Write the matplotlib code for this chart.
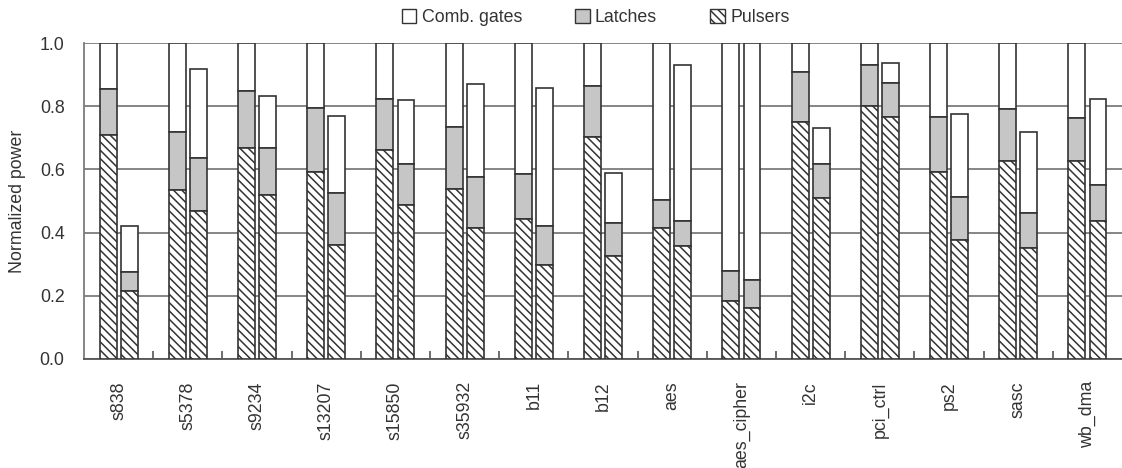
import numpy as np
import matplotlib
matplotlib.use("Agg")
import matplotlib.pyplot as plt
from matplotlib.patches import Patch

plt.rcParams.update({
    "font.family": "Liberation Sans",
    "font.size": 12.8,
    "hatch.linewidth": 1.1,
    "hatch.color": "#222222",
})

benchmarks = ["s838", "s5378", "s9234", "s13207", "s15850", "s35932", "b11",
              "b12", "aes", "aes_cipher", "i2c", "pci_ctrl", "ps2", "sasc", "wb_dma"]

# cumulative heights (top of pulser / top of latch / total) for the original design
orig_pulser = [0.709, 0.535, 0.669, 0.591, 0.661, 0.537, 0.442, 0.703, 0.416, 0.183,
               0.749, 0.801, 0.591, 0.628, 0.628]
orig_latch = [0.856, 0.719, 0.848, 0.793, 0.822, 0.735, 0.585, 0.864, 0.503, 0.277,
              0.907, 0.932, 0.767, 0.790, 0.763]
orig_total = [1.0] * 15

# same, after optimisation
opt_pulser = [0.216, 0.469, 0.519, 0.361, 0.488, 0.414, 0.296, 0.327, 0.356, 0.160,
              0.509, 0.765, 0.375, 0.351, 0.438]
opt_latch = [0.274, 0.635, 0.667, 0.524, 0.616, 0.577, 0.421, 0.430, 0.437, 0.250,
             0.616, 0.872, 0.512, 0.461, 0.551]
opt_total = [0.421, 0.919, 0.832, 0.770, 0.819, 0.869, 0.858, 0.590, 0.932, 1.0,
             0.730, 0.938, 0.777, 0.717, 0.822]

edge = "#333333"
gray = "#c6c6c6"
hatch = "\\\\\\\\"
width = 0.245
offset = 0.153
txt = "#333333"

fig = plt.figure(figsize=(11.22, 4.68), dpi=100)
ax = fig.add_axes([0.0749, 0.233, 0.9251, 0.675])

x = np.arange(len(benchmarks)) + 0.5


def stack(xpos, pulser, latch, total):
    pulser = np.array(pulser)
    latch = np.array(latch)
    total = np.array(total)
    ax.bar(xpos, total - latch, width, bottom=latch, color="white",
           edgecolor=edge, linewidth=1.2, zorder=3)
    ax.bar(xpos, latch - pulser, width, bottom=pulser, color=gray,
           edgecolor=edge, linewidth=1.2, zorder=3)
    ax.bar(xpos, pulser, width, color="white", edgecolor=edge,
           hatch=hatch, linewidth=1.2, zorder=3)


stack(x - offset, orig_pulser, orig_latch, orig_total)
stack(x + offset, opt_pulser, opt_latch, opt_total)

ax.set_xlim(0, len(benchmarks))
ax.set_ylim(0, 1.0)
ax.set_yticks(np.arange(0, 1.01, 0.2))
ax.set_yticklabels([f"{v:.1f}" for v in np.arange(0, 1.01, 0.2)], color=txt)
ax.tick_params(axis="y", length=0, pad=14)
ax.yaxis.grid(True, color="#7c7c7c", linewidth=1.3, zorder=0)

ax.set_xticks(x)
ax.set_xticklabels(benchmarks, rotation=90, color=txt)
ax.tick_params(axis="x", length=0, pad=16)
ax.set_xticks(np.arange(1, len(benchmarks)), minor=True)
ax.tick_params(axis="x", which="minor", direction="in", length=6,
               width=1.2, color="#555555")

for side in ("top", "right"):
    ax.spines[side].set_visible(False)
ax.spines["left"].set_color("#7c7c7c")
ax.spines["left"].set_linewidth(1.3)
ax.spines["bottom"].set_color("#555555")
ax.spines["bottom"].set_linewidth(1.3)

ax.set_ylabel("Normalized power", color=txt, labelpad=10)

handles = [
    Patch(facecolor="white", edgecolor=edge, label="Comb. gates"),
    Patch(facecolor=gray, edgecolor=edge, label="Latches"),
    Patch(facecolor="white", edgecolor=edge, hatch=hatch, label="Pulsers"),
]
fig.legend(handles=handles, loc="upper center", bbox_to_anchor=(0.531, 1.015),
           ncol=3, frameon=False, handlelength=0.8, handleheight=0.8,
           handletextpad=0.3, columnspacing=3.0, labelcolor=txt)

fig.savefig("out.png", dpi=100, facecolor="white")
